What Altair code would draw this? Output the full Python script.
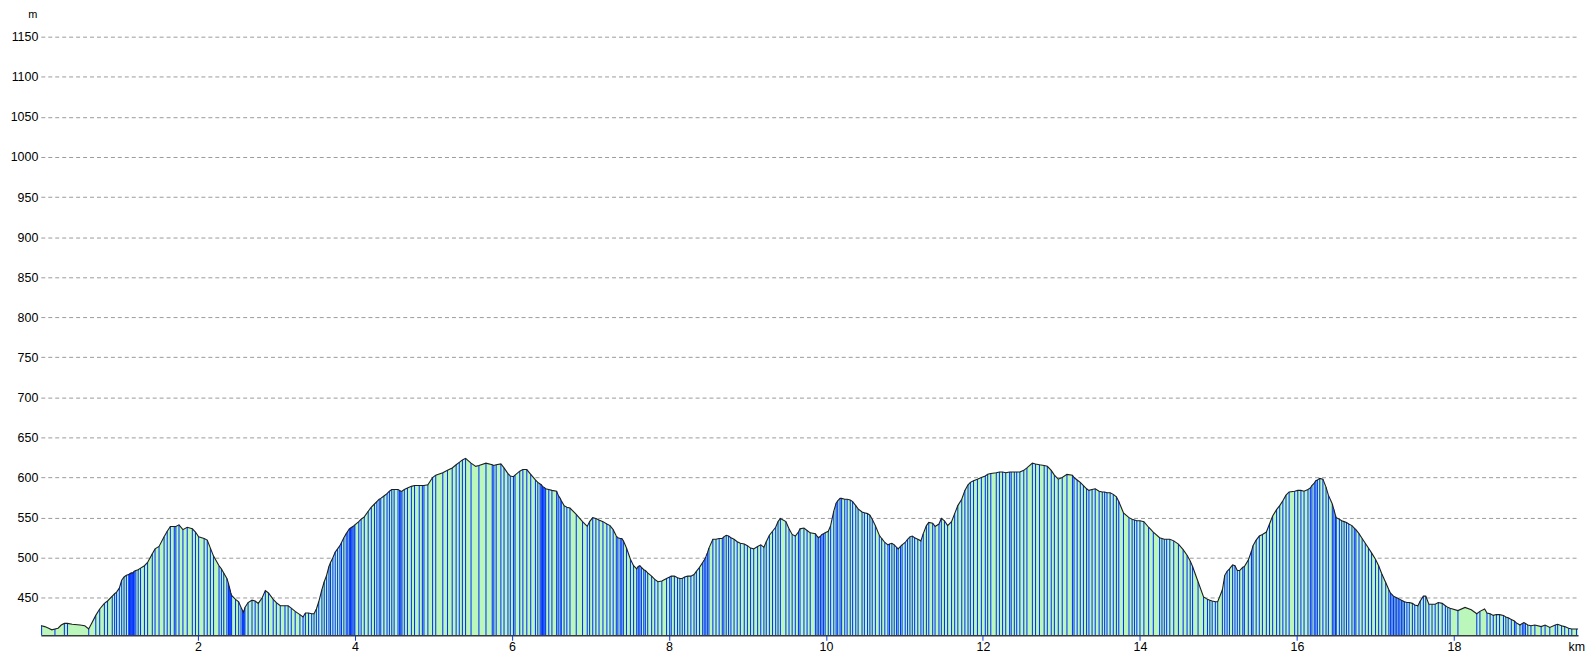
import altair as alt
import pandas as pd

# Track points (each one draws a blue marker line): distance in km, elevation in m
track_km = [
    0.01, 0.18, 0.30, 0.34, 0.61,
    0.70, 0.75, 0.81, 0.85, 0.91, 0.94, 0.965, 1.0, 1.03, 1.06, 1.09, 1.12, 1.13, 1.14, 1.15, 1.16, 1.17, 1.18, 1.19,
    1.21, 1.24, 1.27, 1.32, 1.36, 1.42, 1.455, 1.506, 1.57, 1.61, 1.65, 1.70, 1.72, 1.76, 1.81, 1.865, 1.93, 1.97,
    2.01, 2.08, 2.12, 2.16, 2.20, 2.27, 2.30, 2.33, 2.37, 2.39, 2.40, 2.41, 2.42, 2.43, 2.48, 2.52, 2.55, 2.57, 2.58,
    2.59, 2.60, 2.64, 2.69, 2.73, 2.77, 2.82, 2.86, 2.90, 2.96, 3.00, 3.05, 3.11, 3.15, 3.19, 3.24,
    3.30, 3.34, 3.37, 3.41, 3.45, 3.48, 3.51, 3.54, 3.58, 3.61, 3.64, 3.67, 3.69, 3.72, 3.75, 3.78, 3.81, 3.83, 3.86,
    3.89, 3.91, 3.93, 3.945, 3.96, 3.975, 3.99, 4.00, 4.05, 4.08, 4.12, 4.17, 4.21, 4.25, 4.28, 4.31, 4.33, 4.37,
    4.41, 4.44, 4.47, 4.50, 4.55, 4.57, 4.585, 4.60, 4.63, 4.67, 4.72, 4.76, 4.82, 4.86, 4.88, 4.93, 4.99, 5.03,
    5.12, 5.18, 5.24, 5.29, 5.33, 5.37, 5.41, 5.48, 5.58, 5.67, 5.75, 5.77, 5.80, 5.86, 5.90, 5.95, 5.98, 6.02, 6.04,
    6.10, 6.14, 6.19, 6.24, 6.30, 6.33, 6.36, 6.375, 6.39, 6.405, 6.42, 6.43, 6.47, 6.51,
    6.57, 6.59, 6.615, 6.63, 6.665, 6.70, 6.74, 6.82, 6.90, 6.96, 6.99, 7.03, 7.07, 7.11, 7.16, 7.21, 7.25, 7.29,
    7.33, 7.35, 7.38, 7.40, 7.42, 7.46, 7.51, 7.55, 7.59, 7.61, 7.63, 7.65, 7.68, 7.70, 7.73, 7.78, 7.82, 7.86,
    7.91, 7.97, 8.01, 8.03, 8.07, 8.11, 8.14, 8.17, 8.20, 8.24, 8.28, 8.32, 8.35, 8.39, 8.43, 8.45, 8.47, 8.49,
    8.51, 8.56, 8.60, 8.64, 8.68, 8.70, 8.73, 8.76, 8.79, 8.83, 8.87, 8.91, 8.96, 9.00, 9.04, 9.08, 9.13, 9.17,
    9.21, 9.24, 9.28, 9.32, 9.36, 9.39, 9.42, 9.49, 9.53, 9.57, 9.61, 9.65, 9.67, 9.72, 9.76, 9.80,
    9.866, 9.887, 9.908, 9.93, 9.95, 9.97, 9.99, 10.03, 10.06, 10.10, 10.13, 10.15, 10.18, 10.20, 10.24, 10.27,
    10.31, 10.34, 10.38, 10.41, 10.46, 10.49, 10.53, 10.56, 10.59, 10.63, 10.68, 10.71, 10.75, 10.79, 10.81, 10.84,
    10.87, 10.90, 10.92, 10.95, 10.97, 11.01, 11.04, 11.07, 11.10, 11.13, 11.17, 11.21, 11.24, 11.28, 11.31, 11.36,
    11.39, 11.44, 11.47, 11.51, 11.55, 11.60, 11.64, 11.68, 11.73, 11.77, 11.81, 11.84, 11.88, 11.93, 11.98, 12.03,
    12.06, 12.10, 12.17, 12.21, 12.25, 12.29, 12.34, 12.36, 12.40, 12.43, 12.47, 12.52, 12.56, 12.63, 12.67, 12.72,
    12.78, 12.82, 12.87, 12.91, 12.96, 13.01, 13.07, 13.14,
    13.16, 13.20, 13.24, 13.28, 13.32, 13.35, 13.39, 13.43, 13.48, 13.52, 13.55, 13.58, 13.62, 13.66, 13.70, 13.73,
    13.79, 13.86, 13.90, 13.93, 13.96, 14.00, 14.05, 14.11, 14.17, 14.25, 14.28, 14.31, 14.34, 14.38, 14.43, 14.49,
    14.55, 14.60, 14.64, 14.67, 14.74, 14.81, 14.86, 14.89, 14.92, 14.96, 14.99, 15.05, 15.08, 15.11, 15.14, 15.18,
    15.21, 15.24, 15.27, 15.31, 15.33, 15.38, 15.42, 15.44, 15.48, 15.52, 15.56, 15.61, 15.65, 15.69, 15.74, 15.78,
    15.82, 15.86, 15.90, 15.97, 16.01, 16.05, 16.09, 16.14, 16.17, 16.19, 16.22, 16.24, 16.26, 16.29, 16.33, 16.37,
    16.40,
    16.45, 16.47, 16.49, 16.50, 16.54, 16.57, 16.60, 16.63, 16.66, 16.70, 16.73, 16.75, 16.79, 16.83, 16.87, 16.91,
    16.95, 17.00, 17.04, 17.08, 17.13, 17.17, 17.19, 17.21, 17.23, 17.25, 17.27, 17.29, 17.31, 17.33, 17.35, 17.37,
    17.40, 17.43, 17.47, 17.50, 17.54, 17.57, 17.61, 17.64, 17.68, 17.72, 17.76, 17.80, 17.85, 17.89, 17.92, 17.95,
    18.05, 18.29, 18.33, 18.42, 18.46, 18.50, 18.54, 18.58, 18.63, 18.66, 18.69, 18.73, 18.77, 18.79, 18.84, 18.87,
    18.89, 18.91, 18.94, 18.98, 19.03, 19.11, 19.16, 19.22, 19.29, 19.32, 19.37, 19.41, 19.46, 19.50, 19.56,
]
track_elev = [
    415, 411, 418, 418, 411,
    428, 436, 443, 446, 452, 455, 457, 462, 472, 476, 478, 479, 480, 480, 481, 481, 481, 482, 483,
    484, 485, 487, 490, 494, 505, 511, 514, 526, 533, 539, 539, 539, 541, 535, 538, 536, 532,
    526, 524, 522, 512, 502, 490, 486, 481, 474, 468, 464, 460, 456, 453, 448, 445, 438, 434, 432,
    434, 438, 444, 447, 446, 443, 450, 459, 456, 448, 444, 440, 440, 440, 437, 433,
    429, 426, 431, 431, 430, 430, 436, 445, 460, 470, 478, 489, 494, 500, 507, 511, 515, 519, 525,
    530, 533, 536, 537, 538, 539, 540, 541, 545, 548, 551, 558, 563, 567, 570, 573, 574, 577,
    580, 583, 585, 585, 585, 584, 583, 583, 585, 587, 589, 590, 590, 590, 590, 591, 600, 603,
    606, 609, 612, 616, 619, 622, 624, 618, 615, 618, 616, 615, 616, 617, 612, 605, 602, 601, 603,
    608, 610, 610, 604, 597, 594, 592, 591, 589, 588, 587, 586, 585, 584,
    583, 578, 574, 571, 565, 563, 562, 554, 545, 539, 545, 550, 549, 547, 545, 542, 540, 535,
    527, 525, 524, 524, 521, 512, 498, 490, 486, 489, 490, 488, 485, 484, 481, 477, 473, 470,
    471, 474, 476, 477, 477, 475, 474, 474, 476, 477, 477, 479, 483, 488, 494, 497, 501, 506,
    512, 523, 523, 524, 524, 526, 528, 527, 525, 523, 520, 518, 517, 515, 512, 511, 514, 516,
    513, 520, 528, 533, 538, 545, 549, 545, 536, 529, 527, 532, 536, 537, 534, 531,
    530, 527, 525, 527, 529, 530, 531, 533, 540, 558, 568, 571, 574, 574, 573, 573,
    572, 570, 565, 561, 557, 556, 555, 553, 548, 540, 528, 524, 519, 516, 517, 518,
    516, 513, 511, 514, 516, 519, 523, 526, 527, 525, 523, 521, 530, 540, 544, 543,
    539, 542, 549, 546, 540, 545, 555, 565, 573, 584, 591, 594, 596, 598, 600, 602,
    604, 605, 606, 607, 607, 606, 607, 607, 607, 607, 607, 609, 612, 618, 617, 616,
    615, 614, 609, 603, 598, 600, 604, 603,
    600, 597, 594, 590, 586, 584, 585, 586, 583, 582, 582, 581, 581, 579, 576, 570,
    556, 550, 548, 547, 546, 546, 545, 538, 532, 525, 524, 523, 523, 523, 521, 517,
    510, 503, 496, 489, 470, 451, 448, 447, 446, 445, 445, 460, 478, 483, 486, 491,
    490, 484, 484, 488, 489, 497, 508, 515, 522, 527, 529, 532, 542, 552, 560, 565,
    571, 578, 582, 583, 584, 584, 583, 585, 587, 590, 593, 596, 597, 599, 598, 588,
    578,
    567, 560, 553, 550, 548, 546, 545, 544, 542, 540, 537, 535, 530, 524, 518, 512,
    506, 498, 490, 480, 469, 460, 456, 454, 452, 451, 450, 449, 448, 447, 446, 445,
    444, 444, 443, 441, 440, 446, 452, 452, 442, 442, 442, 444, 443, 440, 438, 437,
    434, 430, 433, 431, 430, 428, 429, 429, 428, 426, 425, 423, 421, 419, 416, 418,
    419, 418, 416, 415, 416, 414, 416, 413, 416, 417, 415, 414, 412, 411, 411,
]

# Extra outline vertices between track markers (no marker line)
shape_km = [0.0, 0.05, 0.10, 0.14, 0.22, 0.26, 0.40, 0.50, 0.56, 5.54,
            18.14, 18.22, 18.39, 19.60, 19.68]
shape_elev = [415, 414, 412, 410, 412, 416, 417, 416, 415, 614,
              438, 435, 436, 411, 413]

x_ticks = [2, 4, 6, 8, 10, 12, 14, 16, 18]
y_ticks = [450, 500, 550, 600, 650, 700, 750, 800, 850, 900, 950, 1000, 1050, 1100, 1150]

GREEN = "#bbf7bb"
BLUE = "#0033ff"
FONT = "Liberation Sans"
BASE = 403.2
W, H = 1546, 614

profile = pd.DataFrame({"km": track_km + shape_km,
                        "elev": track_elev + shape_elev}).sort_values("km")
markers = pd.DataFrame({"km": track_km, "elev": track_elev})

x_enc = alt.X("km:Q",
              scale=alt.Scale(domain=[0, 19.58], nice=False, zero=False),
              axis=alt.Axis(values=x_ticks, title=None, grid=False,
                            domainColor="#3a3a3a", domainWidth=1.5,
                            tickColor=BLUE, tickSize=5, tickWidth=1,
                            labelFont=FONT, labelFontSize=12.5, labelColor="#000000",
                            labelPadding=0, labelFlush=False, format="d", zindex=1))
y_enc = alt.Y("elev:Q",
              scale=alt.Scale(domain=[BASE, 1165], nice=False, zero=False),
              axis=alt.Axis(values=y_ticks, title=None, grid=True,
                            gridColor="#9a9a9a", gridDash=[4, 3], gridWidth=1,
                            ticks=False, domain=False, labelPadding=3,
                            labelFont=FONT, labelFontSize=12.5, labelColor="#000000",
                            format="d"))

area = alt.Chart(profile).mark_area(color=GREEN, opacity=1, clip=True).encode(
    x=x_enc, y=y_enc, y2=alt.datum(BASE))

rules = alt.Chart(markers).mark_rule(color=BLUE, strokeWidth=1.05, clip=True).encode(
    x="km:Q", y="elev:Q", y2=alt.datum(BASE))

outline = alt.Chart(profile).mark_line(color="#1e1e1e", strokeWidth=1.1, clip=True).encode(
    x="km:Q", y="elev:Q")

unit_m = alt.Chart(pd.DataFrame({"t": ["m"]})).mark_text(
    font=FONT, fontSize=11, color="#000000", align="center", baseline="middle").encode(
    x=alt.value(-8), y=alt.value(-9.5), text="t:N")

unit_km = alt.Chart(pd.DataFrame({"t": ["km"]})).mark_text(
    font=FONT, fontSize=12.5, color="#000000", align="right", baseline="middle").encode(
    x=alt.value(W + 7), y=alt.value(H + 11.5), text="t:N")

chart = alt.layer(area, rules, outline, unit_m, unit_km).properties(
    width=W, height=H,
    autosize=alt.AutoSizeParams(type="none"),
    padding={"left": 33, "top": 15, "right": 9, "bottom": 18},
    background="white",
).configure_view(strokeWidth=0)

chart.save("out.html", embed_options={"renderer": "svg", "actions": False})
